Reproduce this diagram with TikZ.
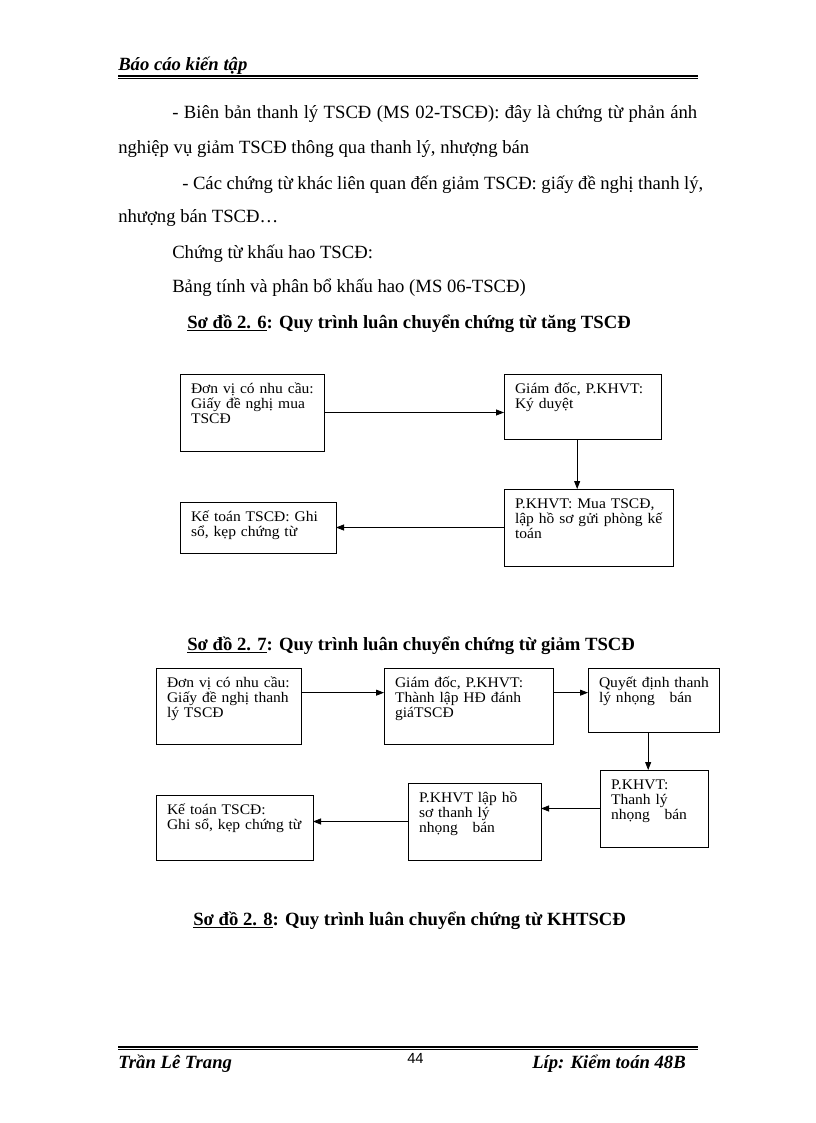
\documentclass[tikz,border=0pt]{standalone}
\usepackage{fontspec}
\setmainfont{Liberation Serif}
\newfontfamily\boxfont[FakeStretch=1.06]{Liberation Serif}
\newfontfamily\pagenumfont{Liberation Sans}
\usetikzlibrary{arrows.meta}

\begin{document}
\begin{tikzpicture}[x=0.75pt,y=-0.75pt,
  stepbox/.style 2 args={draw, line width=0.6pt, anchor=north west, align=left,
    inner xsep=8.25pt, inner ysep=0pt, outer sep=0pt,
    text width=#1*0.75pt-16.5pt, text height=14.25pt, text depth=#2*0.75pt-14.25pt,
    execute at begin node={\rightskip=-7pt plus 2em},
    font=\boxfont\fontsize{11}{11.25}\selectfont},
  flow/.style={-{Triangle[length=6pt,width=4.5pt]}, line width=0.6pt},
  body/.style={anchor=base west, inner sep=0pt, font=\fontsize{14}{16}\selectfont},
  heading/.style={body, font=\fontsize{14}{16}\selectfont\bfseries}]
\useasboundingbox[fill=white] (0,0) rectangle (816,1123);

% header and footer
\node[body, font=\fontsize{14}{16}\selectfont\bfseries\itshape] (head) at (118,71) {Báo cáo kiến tập};
\draw[line width=1.5pt] (118,76) -- (698,76);
\draw[line width=0.5pt] (118,78) -- (698,78);
\draw[line width=1.5pt] (118,1047) -- (698,1047);
\draw[line width=0.5pt] (118,1049) -- (698,1049);
\node[body, font=\fontsize{14}{16}\selectfont\bfseries\itshape] (author) at (118,1068) {Trần Lê Trang};
\node[body, anchor=base east, font=\fontsize{14}{16}\selectfont\bfseries\itshape] (class) at (686,1068) {Líp: Kiểm toán 48B};
\node[body, font=\pagenumfont\fontsize{11}{13}\selectfont] (pagenum) at (407,1063) {44};

% text
\node[body] (line1) at (172,119) {\makebox[393.75pt][s]{- Biên bản thanh lý TSCĐ (MS 02-TSCĐ): đây là chứng từ phản ánh}};
\node[body] (line2) at (118,154) {nghiệp vụ giảm TSCĐ thông qua thanh lý, nhượng bán};
\node[body] (line3) at (182,190) {\makebox[390.75pt][s]{- Các chứng từ khác liên quan đến giảm TSCĐ: giấy đề nghị thanh lý,}};
\node[body] (line4) at (118,223) {nhượng bán TSCĐ…};
\node[body] (line5) at (172,258) {Chứng từ khấu hao TSCĐ:};
\node[body] (line6) at (172,292) {Bảng tính và phân bổ khấu hao (MS 06-TSCĐ)};

% so do 2.6
\node[heading] (title26) at (187,328) {\underline{Sơ đồ 2. 6}: Quy trình luân chuyển chứng từ tăng TSCĐ};
\node[stepbox={144}{77}] (need) at (180,374) {Đơn vị có nhu cầu:\\Giấy đề nghị mua\\TSCĐ};
\node[stepbox={157}{65}] (duyet) at (504,374) {Giám đốc, P.KHVT:\\Ký duyệt};
\node[stepbox={169}{77}] (mua) at (504,489) {P.KHVT: Mua TSCĐ,\\lập hồ sơ gửi phòng kế\\toán};
\node[stepbox={156}{51}] (ghiso) at (180,502) {Kế toán TSCĐ: Ghi\\sổ, kẹp chứng từ};
\draw[flow] (need.east) -- (need.east -| duyet.west);
\draw[flow] ([xshift=-4pt]duyet.south) -- ([xshift=-4pt]duyet.south |- mua.north);
\draw[flow] (mua.west) -- (mua.west -| ghiso.east);

% so do 2.7
\node[heading] (title27) at (187,650) {\underline{Sơ đồ 2. 7}: Quy trình luân chuyển chứng từ giảm TSCĐ};
\node[stepbox={145}{76}] (need2) at (156,668) {Đơn vị có nhu cầu:\\Giấy đề nghị thanh\\lý TSCĐ};
\node[stepbox={169}{76}] (lap) at (384,668) {Giám đốc, P.KHVT:\\Thành lập HĐ đánh\\giáTSCĐ};
\node[stepbox={131}{64}] (quyet) at (588,668) {Quyết định thanh\\lý nhọng~~~bán};
\node[stepbox={108}{77}] (thanhly) at (600,770) {P.KHVT:\\Thanh lý\\nhọng~~~bán};
\node[stepbox={133}{77}] (hoso) at (408,783) {P.KHVT lập hồ\\sơ thanh lý\\nhọng~~~bán};
\node[stepbox={157}{65}] (ghiso2) at (156,795) {Kế toán TSCĐ:\\Ghi sổ, kẹp chứng từ};
\draw[flow] ([yshift=10pt]need2.east) -- ([yshift=10pt]need2.east -| lap.west);
\draw[flow] ([yshift=10pt]lap.east) -- ([yshift=10pt]lap.east -| quyet.west);
\draw[flow] ([xshift=-4pt]quyet.south) -- ([xshift=-4pt]quyet.south |- thanhly.north);
\draw[flow] (thanhly.west) -- (thanhly.west -| hoso.east);
\draw[flow] (hoso.west) -- (hoso.west -| ghiso2.east);

% so do 2.8
\node[heading] (title28) at (193,925) {\underline{Sơ đồ 2. 8}: Quy trình luân chuyển chứng từ KHTSCĐ};
\end{tikzpicture}
\end{document}
